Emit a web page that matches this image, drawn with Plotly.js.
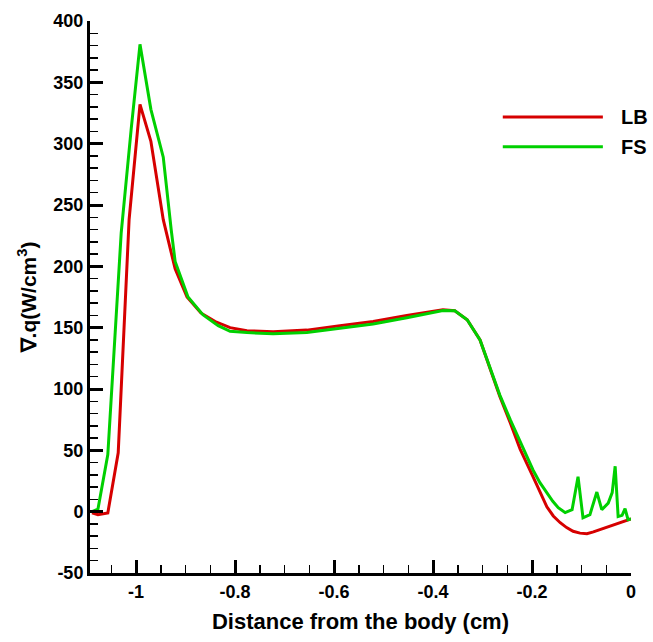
<!DOCTYPE html>
<html>
<head>
<meta charset="utf-8">
<script src="https://cdn.plot.ly/plotly-3.0.1.min.js"></script>
<style>html,body{margin:0;padding:0;background:#fff;}#chart{width:653px;height:642px;}</style>
</head>
<body>
<div id="chart"></div>
<script>
// LB series
var lbX = [-1.089, -1.077, -1.057, -1.036, -1.014, -0.992, -0.970, -0.945, -0.921, -0.897, -0.869, -0.840, -0.810, -0.776, -0.723, -0.655, -0.588, -0.521, -0.453, -0.400, -0.380, -0.356, -0.331, -0.305, -0.265, -0.244, -0.224, -0.198, -0.184, -0.170, -0.157, -0.143, -0.130, -0.117, -0.103, -0.089, -0.076, -0.063, -0.050, -0.036, -0.022, -0.008, 0];
var lbY = [-1, -2.5, -1, 48, 238, 332, 302, 238, 198, 175, 162, 155, 150, 147.5, 146.7, 148, 151.6, 155, 160, 163, 164.5, 163.8, 156.5, 140, 94, 72.5, 51, 28.5, 15.5, 4, -3.5, -9, -13, -16, -17.5, -18, -16.5, -14.7, -12.5, -10.6, -9, -7.3, -6];
// FS series
var fsX = [-1.089, -1.077, -1.057, -1.030, -1.010, -0.992, -0.970, -0.945, -0.929, -0.921, -0.895, -0.865, -0.834, -0.810, -0.776, -0.723, -0.655, -0.588, -0.521, -0.453, -0.400, -0.380, -0.356, -0.331, -0.305, -0.265, -0.244, -0.224, -0.198, -0.184, -0.170, -0.158, -0.147, -0.133, -0.119, -0.107, -0.097, -0.083, -0.069, -0.059, -0.046, -0.038, -0.032, -0.026, -0.018, -0.012, -0.006, 0];
var fsY = [0, 2, 46.5, 227, 311, 381, 328, 289, 230, 204, 175, 160.6, 151.6, 147, 146, 145, 146, 149.5, 153, 158, 162, 164, 163.8, 156.5, 140, 95, 75, 57, 34, 23.6, 15.5, 8.5, 3.3, -0.8, 1.6, 28.5, -5, -2.4, 16, 1.6, 7, 15.5, 37, -4, -3, 2.4, -6.5, -6];
// names
var seriesNames = ["LB", "FS"];
// tick labels
var xTickVals = [-1, -0.8, -0.6, -0.4, -0.2, 0];
var xTickText = ["-1", "-0.8", "-0.6", "-0.4", "-0.2", "0"];
var yTickVals = [-50, 0, 50, 100, 150, 200, 250, 300, 350, 400];
var yTickText = ["-50", "0", "50", "100", "150", "200", "250", "300", "350", "400"];

var red = "rgb(214,0,0)";
var green = "rgb(0,208,0)";
var fontFam = "Liberation Sans, Arial, sans-serif";

var traces = [
  {x: lbX, y: lbY, mode: "lines", name: seriesNames[0], line: {color: red, width: 3}, showlegend: false},
  {x: fsX, y: fsY, mode: "lines", name: seriesNames[1], line: {color: green, width: 3}, showlegend: false}
];

var layout = {
  width: 653, height: 642,
  margin: {l: 90, r: 22, t: 21, b: 69},
  paper_bgcolor: "#fff", plot_bgcolor: "#fff",
  showlegend: false,
  font: {family: fontFam, color: "#000"},
  xaxis: {
    range: [-1.093, 0],
    showline: true, linecolor: "#000", linewidth: 3, mirror: false,
    showgrid: false, zeroline: false,
    tickmode: "array", tickvals: xTickVals, ticktext: xTickText,
    ticks: "inside", ticklen: 13, tickwidth: 3, tickcolor: "#000",
    minor: {tickmode: "linear", tick0: 0, dtick: 0.05, ticks: "inside", ticklen: 8, tickwidth: 1.5, tickcolor: "#000", showgrid: false},
    tickfont: {family: fontFam, size: 18, color: "#000", weight: "bold"},
    title: {text: "<b>Distance from the body (cm)</b>", font: {family: fontFam, size: 22, color: "#000"}, standoff: 14}
  },
  yaxis: {
    range: [-50, 400],
    showline: true, linecolor: "#000", linewidth: 3, mirror: false,
    showgrid: false, zeroline: false,
    tickmode: "array", tickvals: yTickVals, ticktext: yTickText,
    ticks: "inside", ticklen: 13, tickwidth: 3, tickcolor: "#000",
    minor: {tickmode: "linear", tick0: 0, dtick: 10, ticks: "inside", ticklen: 8, tickwidth: 1.5, tickcolor: "#000", showgrid: false},
    tickfont: {family: fontFam, size: 18, color: "#000", weight: "bold"},
    title: {text: "<b>∇.q(W/cm<sup>3</sup>)</b>", font: {family: fontFam, size: 21, color: "#000"}, standoff: 12}
  },
  shapes: [
    {type: "line", xref: "paper", yref: "paper", x0: 0.763, x1: 0.948, y0: 0.826, y1: 0.826, line: {color: red, width: 3}},
    {type: "line", xref: "paper", yref: "paper", x0: 0.763, x1: 0.948, y0: 0.772, y1: 0.772, line: {color: green, width: 3}}
  ],
  annotations: [
    {xref: "paper", yref: "paper", x: 0.978, y: 0.826, xanchor: "left", yanchor: "middle", text: "<b>" + seriesNames[0] + "</b>", showarrow: false, font: {family: fontFam, size: 20, color: "#000"}},
    {xref: "paper", yref: "paper", x: 0.978, y: 0.772, xanchor: "left", yanchor: "middle", text: "<b>" + seriesNames[1] + "</b>", showarrow: false, font: {family: fontFam, size: 20, color: "#000"}}
  ]
};

Plotly.newPlot("chart", traces, layout, {displayModeBar: false, staticPlot: true});
</script>
</body>
</html>
